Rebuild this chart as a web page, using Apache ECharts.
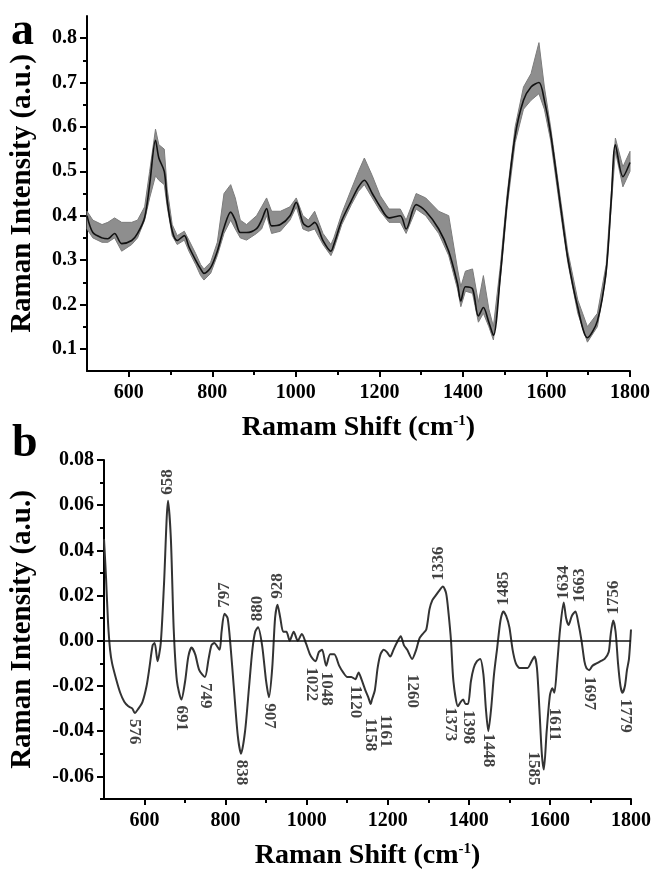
<!DOCTYPE html>
<html>
<head>
<meta charset="utf-8">
<script src="https://cdn.jsdelivr.net/npm/echarts@6/dist/echarts.min.js"></script>
<style>
  html, body { margin: 0; padding: 0; background: #fff; }
  #chart { width: 654px; height: 871px; }
</style>
</head>
<body>
<div id="chart"></div>
<script>
// ---- Panel a: averaged spectrum with the spread of the individual spectra ----
const shiftA = [500,514,536,550,566,583,607,621,638,650,664,672,685,692,704,716,733,744,760,772,780,796,812,828,844,855,867,882,906,918,930,942,963,986,1001,1017,1030,1045,1065,1084,1091,1110,1133,1150,1164,1183,1202,1223,1250,1264,1288,1311,1342,1366,1387,1395,1406,1423,1437,1449,1462,1473,1490,1506,1525,1545,1563,1582,1595,1610,1634,1651,1675,1698,1722,1743,1755,1765,1783,1800];
const meanA = [0.400,0.362,0.350,0.348,0.360,0.337,0.344,0.360,0.396,0.470,0.570,0.530,0.500,0.434,0.366,0.344,0.355,0.330,0.300,0.280,0.270,0.283,0.320,0.373,0.408,0.390,0.362,0.362,0.371,0.390,0.416,0.377,0.380,0.400,0.430,0.384,0.375,0.385,0.344,0.320,0.335,0.389,0.434,0.465,0.480,0.450,0.420,0.395,0.400,0.370,0.425,0.410,0.370,0.320,0.247,0.208,0.240,0.235,0.174,0.193,0.160,0.130,0.270,0.434,0.580,0.660,0.690,0.700,0.660,0.585,0.420,0.305,0.193,0.125,0.163,0.276,0.434,0.560,0.488,0.520];
const upperA = [0.410,0.390,0.380,0.385,0.395,0.385,0.385,0.390,0.420,0.500,0.595,0.560,0.550,0.460,0.380,0.355,0.365,0.345,0.315,0.290,0.280,0.295,0.340,0.450,0.470,0.440,0.390,0.380,0.400,0.420,0.440,0.410,0.410,0.420,0.440,0.400,0.390,0.410,0.360,0.335,0.350,0.405,0.460,0.500,0.530,0.490,0.445,0.415,0.415,0.390,0.450,0.440,0.410,0.400,0.280,0.240,0.275,0.280,0.205,0.265,0.190,0.150,0.290,0.450,0.600,0.690,0.720,0.790,0.690,0.600,0.435,0.320,0.210,0.150,0.180,0.290,0.450,0.575,0.510,0.545];
const lowerA = [0.370,0.350,0.340,0.340,0.350,0.320,0.335,0.350,0.390,0.440,0.490,0.480,0.470,0.420,0.355,0.335,0.345,0.320,0.290,0.265,0.255,0.270,0.310,0.360,0.390,0.370,0.350,0.345,0.360,0.370,0.400,0.360,0.365,0.390,0.420,0.370,0.365,0.370,0.335,0.310,0.325,0.380,0.425,0.455,0.470,0.440,0.410,0.385,0.385,0.360,0.415,0.400,0.360,0.310,0.235,0.195,0.230,0.225,0.160,0.180,0.150,0.120,0.260,0.420,0.565,0.640,0.660,0.675,0.640,0.570,0.405,0.295,0.180,0.115,0.150,0.265,0.420,0.545,0.465,0.500];

// ---- Panel b: difference spectrum ----
const shiftB = [500,505,510,515,520,530,540,550,560,570,576,585,595,605,612,620,625,632,640,648,658,665,672,680,691,700,708,716,725,735,749,758,765,772,785,790,797,805,812,820,830,838,848,858,866,873,880,890,900,907,915,922,928,935,942,950,958,968,978,988,998,1008,1015,1022,1030,1038,1048,1058,1068,1080,1090,1100,1110,1120,1128,1135,1145,1152,1158,1161,1168,1175,1182,1190,1198,1206,1214,1222,1232,1240,1248,1260,1270,1278,1286,1295,1303,1310,1318,1326,1336,1344,1350,1356,1362,1373,1380,1386,1392,1398,1405,1412,1420,1428,1436,1442,1448,1455,1462,1470,1478,1485,1492,1500,1508,1516,1525,1535,1545,1555,1562,1568,1574,1580,1585,1592,1600,1606,1611,1618,1625,1634,1640,1646,1654,1663,1670,1678,1685,1690,1697,1705,1715,1725,1735,1745,1750,1756,1762,1768,1774,1779,1785,1790,1795,1800];
const diffB = [0.045,0.028,0.008,-0.004,-0.010,-0.017,-0.023,-0.027,-0.029,-0.030,-0.032,-0.030,-0.027,-0.020,-0.012,-0.002,-0.001,-0.009,-0.001,0.025,0.062,0.045,0.005,-0.018,-0.026,-0.018,-0.007,-0.003,-0.006,-0.013,-0.016,-0.008,-0.002,-0.001,-0.004,0.004,0.012,0.010,-0.002,-0.020,-0.042,-0.050,-0.040,-0.020,-0.004,0.004,0.006,-0.002,-0.018,-0.025,-0.012,0.010,0.016,0.010,0.004,0.004,0.000,0.004,0.000,0.003,-0.001,-0.006,-0.008,-0.009,-0.005,-0.004,-0.011,-0.006,-0.006,-0.011,-0.014,-0.016,-0.016,-0.017,-0.014,-0.017,-0.022,-0.025,-0.028,-0.026,-0.022,-0.012,-0.006,-0.004,-0.005,-0.007,-0.004,-0.001,0.002,-0.002,-0.004,-0.008,-0.004,0.001,0.003,0.005,0.014,0.018,0.020,0.022,0.024,0.021,0.012,0.000,-0.018,-0.029,-0.027,-0.026,-0.028,-0.028,-0.018,-0.012,-0.009,-0.008,-0.015,-0.030,-0.040,-0.030,-0.015,-0.003,0.009,0.013,0.011,0.006,-0.004,-0.010,-0.012,-0.012,-0.012,-0.009,-0.007,-0.012,-0.030,-0.050,-0.057,-0.040,-0.024,-0.021,-0.023,-0.010,0.005,0.017,0.010,0.007,0.011,0.013,0.008,0.000,-0.009,-0.012,-0.013,-0.011,-0.010,-0.009,-0.008,-0.005,0.003,0.009,0.004,-0.010,-0.020,-0.023,-0.020,-0.013,-0.008,0.005];

// Band positions annotated in panel b
const peakShifts = [658,797,880,928,1336,1485,1634,1663,1756];
const troughShifts = [576,691,749,838,907,1022,1048,1120,1158,1161,1260,1373,1398,1448,1585,1611,1697,1779];

// Axis ticks
const ticksX = [600,800,1000,1200,1400,1600,1800];
const minorX = [700,900,1100,1300,1500,1700];
const ticksYA = [0.1,0.2,0.3,0.4,0.5,0.6,0.7,0.8];
const minorYA = [0.15,0.25,0.35,0.45,0.55,0.65,0.75];
const ticksYB = [-0.06,-0.04,-0.02,0.00,0.02,0.04,0.06,0.08];
const minorYB = [-0.07,-0.05,-0.03,-0.01,0.01,0.03,0.05,0.07];

// screen-space nudges [dx, dy] (px) so neighbouring band labels stay apart
const labelNudge = {
  1161: [13, 9], 1158: [0, 8], 1373: [-8, -5], 1585: [-10, -24], 1611: [0, 9],
  1260: [0, 9], 1336: [-4, 0], 1663: [4, -3], 1634: [0, 3], 1022: [-4, 0], 1448: [0, -4], 1779: [3, 0]
};

const FONT = '"Liberation Serif", "Times New Roman", serif';
const pairs = (xs, ys) => xs.map((x, i) => [x, ys[i]]);
const valueAt = s => diffB[shiftB.indexOf(s)];
// offsets of rotated labels are applied in the label's own (rotated) frame
const peakOffset = s => { const n = labelNudge[s] || [0, 0]; return [-n[1], n[0]]; };
const troughOffset = s => { const n = labelNudge[s] || [0, 0]; return [n[1], -n[0]]; };

const chart = echarts.init(document.getElementById('chart'), null, { renderer: 'canvas' });

const nameRich = {
  n: { fontFamily: FONT, fontWeight: 'bold', fontSize: 28, color: '#000' },
  s: { fontFamily: FONT, fontWeight: 'bold', fontSize: 15, color: '#000', verticalAlign: 'top', padding: [0, 0, 12, 0] }
};

function xAxisPair(grid, title) {
  const base = {
    type: 'value', gridIndex: grid, min: 500, max: 1800, position: 'bottom',
    splitLine: { show: false }
  };
  return [
    Object.assign({}, base, {
      axisLine: { show: true, onZero: false, lineStyle: { color: '#000', width: 2 } },
      axisTick: { show: true, inside: false, length: 6, customValues: ticksX, lineStyle: { color: '#000', width: 2 } },
      axisLabel: {
        show: true, customValues: ticksX, margin: 12, formatter: v => String(v),
        fontFamily: FONT, fontWeight: 'bold', fontSize: 20, color: '#000'
      },
      name: title, nameLocation: 'middle', nameGap: 43,
      nameTextStyle: { fontFamily: FONT, fontWeight: 'bold', fontSize: 28, color: '#000', rich: nameRich }
    }),
    Object.assign({}, base, {
      axisLine: { show: false, onZero: false },
      axisTick: { show: true, inside: false, length: 4, customValues: minorX, lineStyle: { color: '#000', width: 2 } },
      axisLabel: { show: false }
    })
  ];
}

function yAxisPair(grid, min, max, ticks, minor, decimals, nameGap) {
  const base = {
    type: 'value', gridIndex: grid, min: min, max: max, position: 'left',
    splitLine: { show: false }
  };
  return [
    Object.assign({}, base, {
      axisLine: { show: true, onZero: false, lineStyle: { color: '#000', width: 2 } },
      axisTick: { show: true, inside: false, length: 7, customValues: ticks, lineStyle: { color: '#000', width: 2 } },
      axisLabel: {
        show: true, customValues: ticks, margin: 10,
        formatter: v => v.toFixed(decimals),
        fontFamily: FONT, fontWeight: 'bold', fontSize: 20, color: '#000'
      },
      name: 'Raman Intensity (a.u.)', nameLocation: 'middle', nameGap: nameGap,
      nameTextStyle: { fontFamily: FONT, fontWeight: 'bold', fontSize: 29, color: '#000' }
    }),
    Object.assign({}, base, {
      axisLine: { show: false, onZero: false },
      axisTick: { show: true, inside: false, length: 4, customValues: minor, lineStyle: { color: '#000', width: 2 } },
      axisLabel: { show: false }
    })
  ];
}

const xAxes = xAxisPair(0, '{n|Ramam Shift (cm}{s|-1}{n|)}').concat(xAxisPair(1, '{n|Raman Shift (cm}{s|-1}{n|)}'));
const yAxes = yAxisPair(0, 0.05, 0.85, ticksYA, minorYA, 1, 50).concat(yAxisPair(1, -0.07, 0.08, ticksYB, minorYB, 2, 67));

// closed outline of the spread: upper edge left→right, lower edge right→left
function spreadItem(params, api) {
  if (params.dataIndex !== 0) return null;
  const pts = [];
  for (let i = 0; i < shiftA.length; i++) pts.push(api.coord([shiftA[i], upperA[i]]));
  for (let i = shiftA.length - 1; i >= 0; i--) pts.push(api.coord([shiftA[i], lowerA[i]]));
  return {
    type: 'polygon',
    shape: { points: pts },
    style: { fill: '#8e8e8e', stroke: '#7c7c7c', lineWidth: 1 }
  };
}

const labelCommon = {
  show: true, fontFamily: FONT, fontWeight: 'bold', fontSize: 17, color: '#111',
  formatter: p => String(p.value[0])
};

const option = {
  backgroundColor: '#fff',
  animation: false,
  grid: [
    { left: 82, top: 16, width: 548, height: 355, containLabel: false },
    { left: 99, top: 460, width: 536, height: 345, containLabel: false }
  ],
  xAxis: xAxes,
  yAxis: yAxes,
  graphic: [
    { type: 'text', left: 11, top: 9, style: { text: 'a', fontFamily: FONT, fontWeight: 'bold', fontSize: 46, fill: '#000' } },
    { type: 'text', left: 12, top: 421, style: { text: 'b', fontFamily: FONT, fontWeight: 'bold', fontSize: 46, fill: '#000' } }
  ],
  series: [
    {
      type: 'custom', xAxisIndex: 0, yAxisIndex: 0, renderItem: spreadItem,
      data: [[shiftA[0], meanA[0]]], z: 2, silent: true
    },
    {
      type: 'line', xAxisIndex: 0, yAxisIndex: 0, symbol: 'none', smooth: 0.3,
      data: pairs(shiftA, meanA), lineStyle: { width: 1.6, color: '#111' }, z: 3
    },
    // difference spectrum
    {
      type: 'line', xAxisIndex: 2, yAxisIndex: 2, symbol: 'none', smooth: 0.25,
      data: pairs(shiftB, diffB), lineStyle: { width: 2, color: '#333' }, z: 3,
      markLine: {
        silent: true, symbol: 'none', label: { show: false },
        lineStyle: { color: '#111', width: 1.6, type: 'solid' },
        data: [{ yAxis: 0 }]
      }
    },
    {
      type: 'scatter', xAxisIndex: 2, yAxisIndex: 2, symbolSize: 0, z: 4,
      data: peakShifts.map(s => ({
        value: [s, valueAt(s)],
        label: Object.assign({}, labelCommon, {
          position: 'top', distance: 6, rotate: 90, align: 'left', verticalAlign: 'middle',
          offset: peakOffset(s)
        })
      }))
    },
    {
      type: 'scatter', xAxisIndex: 2, yAxisIndex: 2, symbolSize: 0, z: 4,
      data: troughShifts.map(s => ({
        value: [s, valueAt(s)],
        label: Object.assign({}, labelCommon, {
          position: 'bottom', distance: 6, rotate: -90, align: 'left', verticalAlign: 'middle',
          offset: troughOffset(s)
        })
      }))
    }
  ]
};

chart.setOption(option);
</script>
</body>
</html>
